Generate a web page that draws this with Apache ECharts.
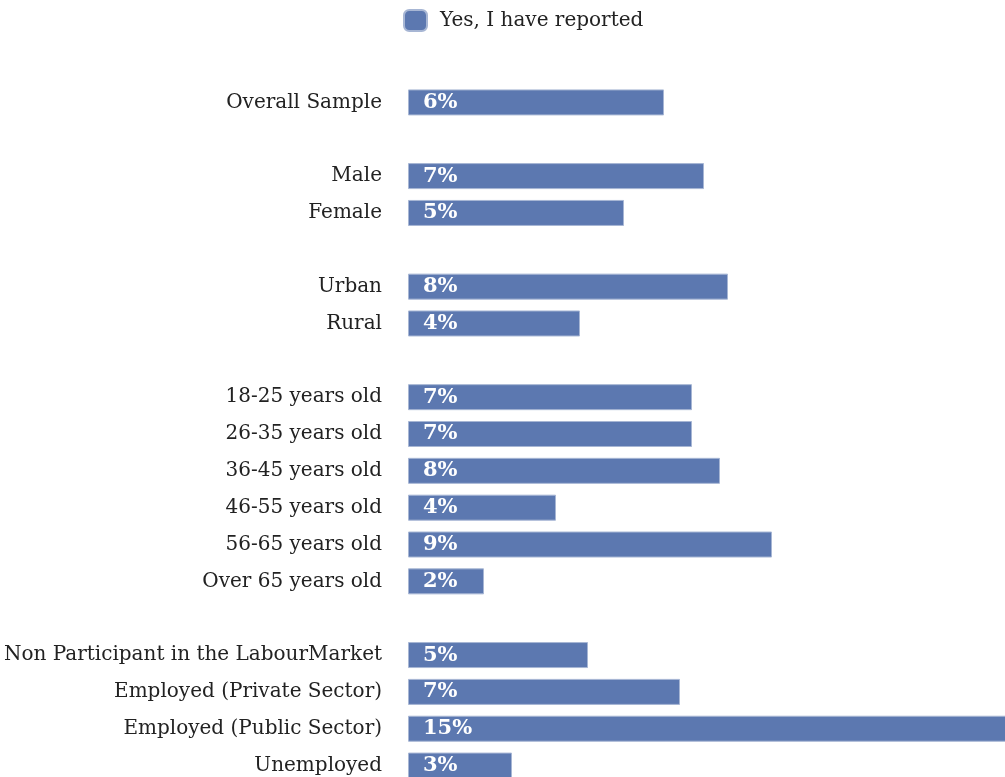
<!DOCTYPE html>
<html>
<head>
<meta charset="utf-8">
<title>Yes, I have reported</title>
<script src="https://cdn.jsdelivr.net/npm/echarts@6/dist/echarts.min.js"></script>
<style>
  html, body { margin: 0; padding: 0; background: #ffffff; overflow: hidden; }
  /* The drawing surface runs a little past the window so the last row and
     the longest bar run off the edges. */
  #chart { width: 1012px; height: 790px; }
</style>
</head>
<body>
<div id="chart"></div>
<script>
// Rows from top to bottom; empty strings separate the groups.
const categories = [
  'Overall Sample',
  '',
  'Male',
  'Female',
  '',
  'Urban',
  'Rural',
  '',
  '18-25 years old',
  '26-35 years old',
  '36-45 years old',
  '46-55 years old',
  '56-65 years old',
  'Over 65 years old',
  '',
  'Non Participant in the LabourMarket',
  'Employed (Private Sector)',
  'Employed (Public Sector)',
  'Unemployed'
];

// Share answering "Yes, I have reported" (%), null for the spacer rows.
const reported = [
  6.4,
  null,
  7.4, 5.4,
  null,
  8.0, 4.3,
  null,
  7.1, 7.1, 7.8, 3.7, 9.1, 1.9,
  null,
  4.5, 6.8, 15.0, 2.6
];

const seriesName = 'Yes, I have reported';
const barColor = '#5c78b0';
const serif = '"DejaVu Serif", "Liberation Serif", serif';

const chart = echarts.init(document.getElementById('chart'), null, { renderer: 'canvas' });

chart.setOption({
  animation: false,
  backgroundColor: '#ffffff',
  legend: {
    data: [seriesName],
    left: 403,
    top: 9,
    padding: 0,
    itemWidth: 23,
    itemHeight: 21,
    icon: 'roundRect',
    textStyle: {
      fontFamily: serif,
      fontSize: 20,
      color: '#222222',
      padding: [0, 0, 0, 8]
    }
  },
  grid: {
    left: 408,
    top: 84,
    width: 600,
    height: 700,
    containLabel: false
  },
  xAxis: {
    type: 'value',
    min: 0,
    max: 15,
    show: false
  },
  yAxis: {
    type: 'category',
    data: categories,
    inverse: true,
    axisLine: { show: false },
    axisTick: { show: false },
    splitLine: { show: false },
    axisLabel: {
      interval: 0,
      margin: 26,
      fontFamily: serif,
      fontSize: 20,
      color: '#222222'
    }
  },
  series: [{
    name: seriesName,
    type: 'bar',
    data: reported,
    barWidth: 26,
    itemStyle: {
      color: barColor,
      borderColor: '#a7b6d4',
      borderWidth: 1
    },
    label: {
      show: true,
      position: 'insideLeft',
      distance: 15,
      formatter: p => (p.value == null ? '' : Math.round(p.value) + '%'),
      fontFamily: serif,
      fontWeight: 'bold',
      fontSize: 21,
      color: '#ffffff'
    }
  }]
});
</script>
</body>
</html>
